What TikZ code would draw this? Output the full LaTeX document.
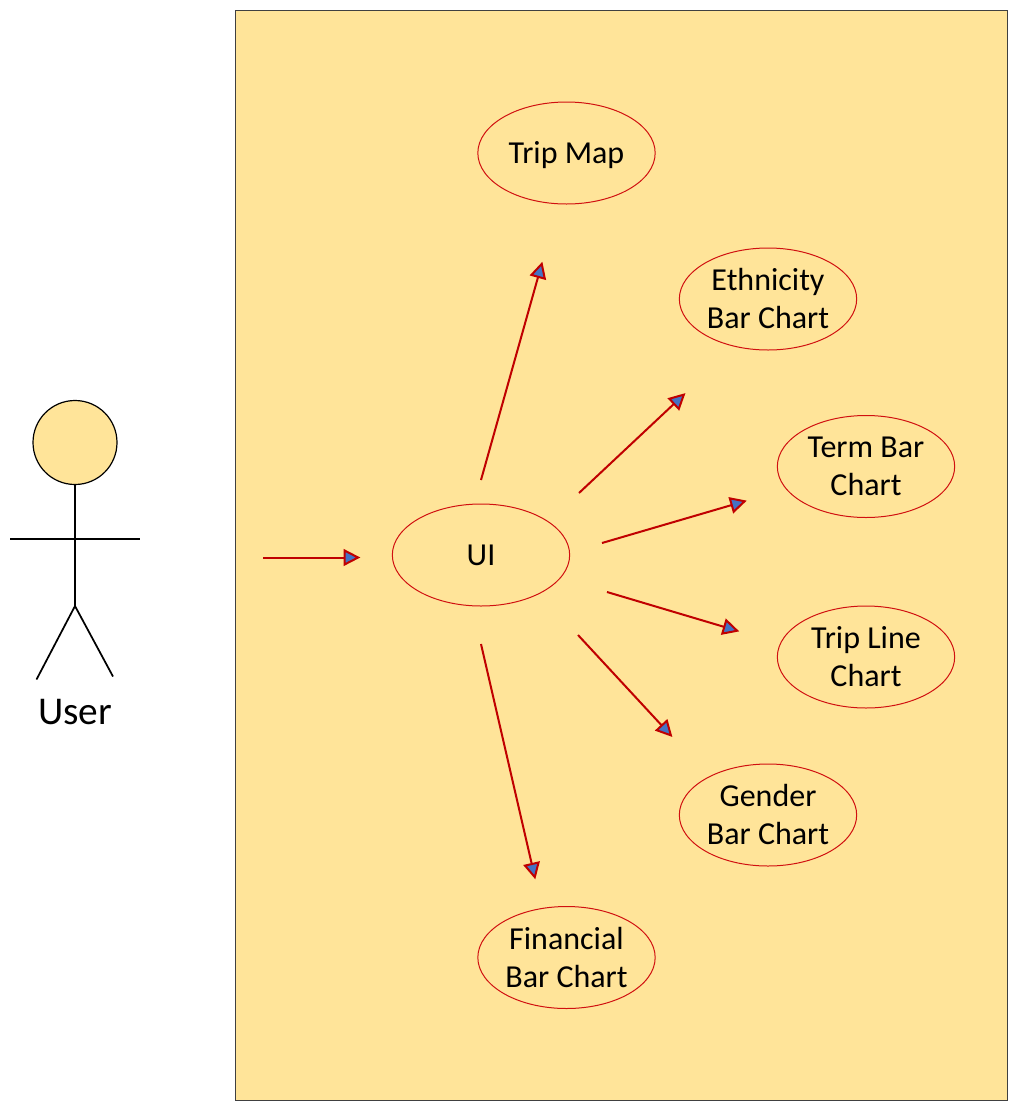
\documentclass[tikz,border=0pt]{standalone}
\usepackage{fontspec}
\setmainfont{Carlito}
\usetikzlibrary{arrows.meta,shapes.geometric}
\definecolor{sand}{HTML}{FFE499}
\definecolor{edgered}{HTML}{C00000}
\definecolor{ovalred}{HTML}{D01010}
\definecolor{tipblue}{HTML}{4472C4}
\newcommand{\liftby}[2]{\raisebox{#1}{#2}}
\tikzset{
  usecase/.style={ellipse,draw=ovalred,line width=0.75pt,fill=sand,minimum width=133pt,minimum height=76.5pt,inner sep=0pt,align=center,font=\fontsize{24}{28.5}\selectfont},
  flow/.style={draw=edgered,line width=1.5pt,shorten >=-1pt,-{Triangle[fill=tipblue,length=12.5pt,width=12.5pt,line width=1.5pt,sep=0pt]}},
  limb/.style={draw=black,line width=1.3pt}
}
\begin{document}
\begin{tikzpicture}[x=0.75pt,y=-0.75pt]
\useasboundingbox (0,0) rectangle (1018,1111);
\node[draw=black!75,line width=0.8pt,fill=sand,minimum width=579pt,minimum height=817pt,inner sep=0pt] (system) at (621.5,555.5) {};
\node[usecase] (map) at (566.5,153) {\rule{0pt}{20pt}Trip Map};
\node[usecase] (eth) at (768,299) {Ethnicity\\Bar Chart};
\node[usecase] (term) at (866,466.5) {Term Bar\\Chart};
\node[usecase] (line) at (866,657) {Trip Line\\Chart};
\node[usecase] (gender) at (768,815) {\liftby{1.2pt}{Gender}\\\liftby{1.2pt}{Bar Chart}};
\node[usecase] (fin) at (566.5,957.5) {\liftby{0.75pt}{Financial}\\\liftby{0.75pt}{Bar Chart}};
\node[usecase] (ui) at (481,555) {UI};
\node[circle,draw=black,line width=0.9pt,fill=sand,minimum size=63pt,inner sep=0pt] (head) at (75,442.5) {};
\coordinate (hip) at (75,606);
\coordinate (shoulderL) at (10,539);
\coordinate (shoulderR) at (139.5,539);
\coordinate (footL) at (36.5,679.5);
\coordinate (footR) at (113,676.5);
\draw[limb] (head.south) -- (hip);
\draw[limb] (shoulderL) -- (shoulderR);
\draw[limb] (footL) -- (hip) -- (footR);
\node[font=\fontsize{29.5}{32}\selectfont] (user) at (75,712) {User};
\coordinate (a0) at (263,557.5); \coordinate (a1) at (359,557.5);
\coordinate (b0) at (481,480); \coordinate (b1) at (542,263);
\coordinate (c0) at (579,493); \coordinate (c1) at (684.5,394);
\coordinate (d0) at (602,543); \coordinate (d1) at (745.5,501);
\coordinate (e0) at (607,592); \coordinate (e1) at (738,631);
\coordinate (f0) at (578,635); \coordinate (f1) at (671.5,736);
\coordinate (g0) at (481,644); \coordinate (g1) at (535,878);
\draw[flow] (a0) -- (a1);
\draw[flow] (b0) -- (b1);
\draw[flow] (c0) -- (c1);
\draw[flow] (d0) -- (d1);
\draw[flow] (e0) -- (e1);
\draw[flow] (f0) -- (f1);
\draw[flow] (g0) -- (g1);
\end{tikzpicture}
\end{document}
